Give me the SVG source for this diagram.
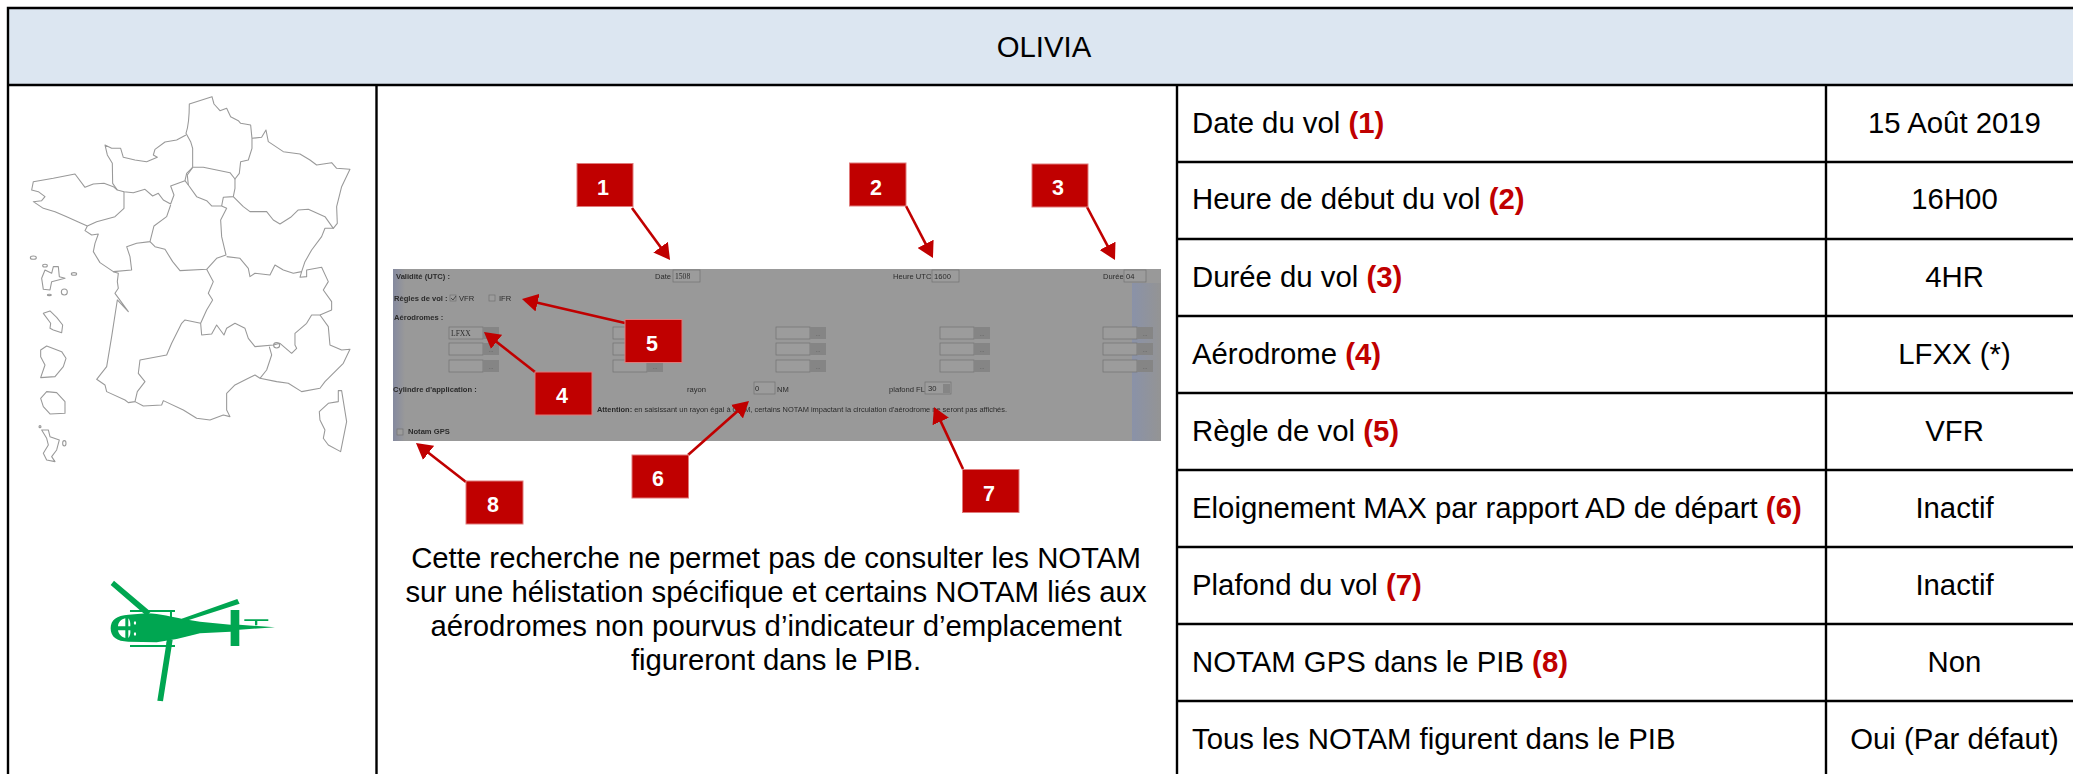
<svg xmlns="http://www.w3.org/2000/svg" xmlns:xlink="http://www.w3.org/1999/xlink" width="2073" height="774" viewBox="0 0 2073 774">
<style>
text{font-family:"Liberation Sans",Arial,sans-serif;fill:#000}
.c{font-size:29.33px}
.m{text-anchor:middle}
.r{fill:#C00000;font-weight:bold}
.grid{stroke:#000;stroke-width:2.4;fill:none}
.map path,.map ellipse{fill:none;stroke:#999;stroke-width:3.2;stroke-linejoin:round}
.badge rect{fill:#C00000;stroke:#E07B7B;stroke-width:1}
.badge text{fill:#fff;font-weight:bold;font-size:21.5px;text-anchor:middle}
.arrow line{stroke:#C00000;stroke-width:2.6;marker-end:url(#ah)}
.s{font-size:7.6px;fill:#2b2b2b}
.b{font-weight:bold}
.d{font-size:6px;fill:#555;text-anchor:middle}
.inp{fill:#9c9c9c;stroke:#727272;stroke-width:.7}
.btn{fill:#858585}
.hel{fill:#00A651}
.hel .w{fill:#fff}
</style>
<defs>
<marker id="ah" markerUnits="userSpaceOnUse" viewBox="0 0 16 18" refX="10" refY="9" markerWidth="16" markerHeight="18" orient="auto"><path d="M0 0L16 9L0 18Z" fill="#C00000"/></marker>
<linearGradient id="gl" x1="0" x2="1" y1="0" y2="0"><stop offset="0" stop-color="#84899f"/><stop offset="1" stop-color="#999"/></linearGradient>
<linearGradient id="gr" x1="0" x2="1" y1="0" y2="0"><stop offset="0" stop-color="#8a92a8"/><stop offset="1" stop-color="#949494"/></linearGradient>
<filter id="soft" x="-2%" y="-2%" width="104%" height="104%"><feGaussianBlur stdDeviation="0.4"/></filter>
<g id="field"><rect class="inp" x="0" y="0" width="34" height="12"/><rect class="btn" x="34" y="0" width="16" height="12"/><text class="d" x="42" y="9">...</text></g>
</defs>
<rect width="2073" height="774" fill="#fff"/>
<g id="table">
<rect x="8" y="8" width="2067" height="77" fill="#DCE6F1"/>
<path class="grid" d="M2075 8H8V776M376.500 85V776M1177 85V776M1826 85V776M8 85H2075M1177 162H2075M1177 239H2075M1177 316H2075M1177 393H2075M1177 470H2075M1177 547H2075M1177 624H2075M1177 701H2075"/>
</g>
<g id="title"><text class="c m" x="1044" y="57">OLIVIA</text></g>
<g id="map" class="map" transform="translate(0 80) scale(.3333)">
<path d="M558 160C565 140 568 110 568 72L636 50L642 72L660 92L680 85L692 110L715 122L722 130L752 135L756 175L756 205L745 240L722 245L718 280L705 297L690 278L650 270L610 262L578 262L578 205L572 185Z"/>
<path d="M558 165L530 180L495 186L465 208L460 225L472 232L440 245L405 240L370 232L362 205L335 205L315 195L322 225L337 250L338 310L352 330L372 335L400 338L435 328L458 348L475 340L490 360L512 372L522 345L512 318L555 302L560 280L578 262"/>
<path d="M372 335L372 385L345 410L290 425L262 438L240 428L200 410L165 395L130 385L100 365L125 362L135 350L115 335L95 330L100 305L160 295L225 282L255 322L280 312L312 310L340 320L352 330"/>
<path d="M262 438L255 452L275 465L295 462L285 490L280 515L300 548L340 575L395 570L390 530L380 500L410 490L450 485L462 438L500 410L512 375"/>
<path d="M555 302L565 315L590 350L620 362L635 378L665 378L680 385L662 420L665 470L678 525L650 535L620 568L540 572L518 545L495 508L465 500L450 485"/>
<path d="M578 262L562 285L565 315M705 297L705 325L700 350L670 352L665 378"/>
<path d="M756 175L785 172L798 150L805 185L850 215L900 222L930 240L950 255L995 248L1010 265L1050 268L1025 320L1010 380L1012 430L1000 445L975 410L925 388L895 390L872 412L840 432L820 420L800 395L750 395L730 380L700 350"/>
<path d="M1000 445L975 445L965 470L935 510L915 545L905 575L880 580L850 570L825 555L810 585L765 580L750 590L745 565L720 535L680 530"/>
<path d="M620 568L640 605L625 640L638 660L620 690L602 730L605 765L635 762L650 735L672 765L680 745L705 730L735 745L745 775L765 800L820 795L840 790L875 820L890 805L885 795L885 760L920 730L935 705L960 705L995 690L995 665L970 630L985 605L965 562L920 570L920 590L900 592L905 575"/>
<path d="M340 575L355 580L352 605L355 625L345 640L385 695L352 660L335 770L320 860L290 898L315 915L320 935L375 960L385 968L405 965L412 935L435 905L415 880L420 840L500 825L515 790L545 730L555 720L602 730"/>
<path d="M405 965L430 978L485 975L490 962L550 990L590 1015L630 1020L670 1005L690 1010L680 990L680 940L705 915L745 895L765 885L780 895L800 870L815 825L808 800"/>
<path d="M780 895L830 905L865 910L905 935L960 925L975 905L1030 850L1050 808L1025 810L990 795L985 740L960 705"/>
<ellipse cx="830" cy="796" rx="9" ry="8"/>
<path d="M1015 932L1025 932L1040 1025L1022 1115L985 1095L970 1075L975 1050L960 1020L958 995L985 970L1015 965Z"/>
<path d="M125 595L135 570L155 580L160 560L175 560L178 590L195 595L155 605L150 630L130 628Z"/>
<ellipse cx="100" cy="533" rx="9" ry="5"/><ellipse cx="135" cy="557" rx="7" ry="4"/><ellipse cx="222" cy="582" rx="8" ry="4"/><ellipse cx="193" cy="636" rx="9" ry="9"/><ellipse cx="148" cy="645" rx="6" ry="2"/>
<path d="M130 700L150 693L170 712L188 735L185 758L160 750L150 745L152 730Z"/>
<path d="M122 810L140 798L185 815L198 835L190 860L165 890L122 893L135 855L122 830Z"/>
<path d="M122 955L140 935L170 938L195 965L195 1000L150 1002L130 980Z"/>
<path d="M125 1050L145 1050L150 1070L178 1080L170 1110L155 1130L165 1145L140 1140L130 1120L145 1095L140 1075Z"/>
<ellipse cx="193" cy="1090" rx="5" ry="8"/><ellipse cx="120" cy="1040" rx="3" ry="3"/>
</g>
<g id="helicopter" class="hel" transform="translate(0 540) scale(.3333)">
<path d="M332 265C332 240 350 226 385 224L440 220C480 220 520 233 545 236L600 245L692 254V210H718V254L825 262L718 269V318H692V275L600 280L570 287L530 297L470 307L385 305C350 305 332 290 332 265Z"/>
<path d="M342 122L452 215L440 228L332 135ZM712 177L719 191L555 244L545 236ZM501 298L518 300L489 484L472 482Z"/>
<path d="M390 210H525V216H390ZM390 315H525V321H390ZM733 238H805V243H733ZM765 243H772V256H765ZM510 216H516V234H510ZM500 305H507V316H500Z"/>
<path class="w" d="M376 235C364 237 354 248 354 259H376ZM385 235V259H391C392 250 390 240 385 235ZM354 271C356 283 365 292 376 294V271ZM385 271V294C390 290 392 280 391 271Z"/>
<ellipse class="w" cx="405" cy="249" rx="3.500" ry="5"/><ellipse class="w" cx="405" cy="282" rx="3.500" ry="5"/>
</g>
<g id="screenshot" filter="url(#soft)">
<rect x="393" y="269" width="768" height="172" fill="#999"/>
<rect x="393" y="269" width="12" height="172" fill="url(#gl)"/>
<rect x="1132" y="283" width="29" height="158" fill="url(#gr)"/>
<text class="s b" x="396" y="279">Validité (UTC) :</text>
<text class="s" x="655" y="279">Date</text><rect class="inp" x="673" y="270" width="27" height="12"/><text class="s" x="675" y="279" style="font-family:'Liberation Serif',serif">1508</text>
<text class="s" x="893" y="279">Heure UTC</text><rect class="inp" x="932" y="270" width="27" height="12"/><text class="s" x="934" y="279">1600</text>
<text class="s" x="1103" y="279">Durée</text><rect class="inp" x="1124" y="270" width="22" height="12"/><text class="s" x="1126" y="279">04</text>
<text class="s b" x="394" y="301">Règles de vol :</text>
<rect class="inp" x="450" y="295" width="6" height="6"/><path d="M451 298l2 2l3-4" stroke="#333" fill="none" stroke-width=".8"/><text class="s" x="459" y="301">VFR</text>
<rect class="inp" x="489" y="295" width="6" height="6"/><text class="s" x="499" y="301">IFR</text>
<text class="s b" x="394" y="320">Aérodromes :</text>
<use href="#field" x="449" y="327"/><use href="#field" x="449" y="343"/><use href="#field" x="449" y="360"/>
<use href="#field" x="613" y="327"/><use href="#field" x="613" y="343"/><use href="#field" x="613" y="360"/>
<use href="#field" x="776" y="327"/><use href="#field" x="776" y="343"/><use href="#field" x="776" y="360"/>
<use href="#field" x="940" y="327"/><use href="#field" x="940" y="343"/><use href="#field" x="940" y="360"/>
<use href="#field" x="1103" y="327"/><use href="#field" x="1103" y="343"/><use href="#field" x="1103" y="360"/>
<text class="s" x="451" y="336" style="font-family:'Liberation Serif',serif">LFXX</text>
<text class="s b" x="393" y="392">Cylindre d'application :</text>
<text class="s" x="687" y="392">rayon</text><rect class="inp" x="754" y="382" width="21" height="12"/><text class="s" x="755" y="391">0</text><text class="s" x="777" y="392">NM</text>
<text class="s" x="889" y="392">plafond FL</text><rect class="inp" x="925" y="382" width="26" height="12"/><text class="s" x="928" y="391">30</text><rect class="btn" x="943" y="384" width="7" height="9"/>
<text class="s" x="597" y="412" textLength="410" lengthAdjust="spacingAndGlyphs"><tspan class="b">Attention:</tspan> en saisissant un rayon égal à 0 NM, certains NOTAM impactant la circulation d'aérodrome ne seront pas affichés.</text>
<rect class="inp" x="397" y="429" width="6" height="6"/><text class="s b" x="408" y="434">Notam GPS</text>
</g>
<g id="connectors" class="arrow">
<line x1="632" y1="208" x2="666.500" y2="255.200"/>
<line x1="906" y1="206" x2="930.200" y2="252.700"/>
<line x1="1087" y1="207" x2="1112.200" y2="254.700"/>
<line x1="535" y1="372" x2="488.700" y2="335.700"/>
<line x1="625" y1="323" x2="527.800" y2="300.400"/>
<line x1="688" y1="455" x2="744.500" y2="405"/>
<line x1="963" y1="469" x2="936.500" y2="412.400"/>
<line x1="466" y1="482" x2="420.700" y2="446.700"/>
</g>
<g id="badge-1" class="badge"><rect x="577" y="163.500" width="56" height="43"/><text x="603" y="195">1</text></g>
<g id="badge-2" class="badge"><rect x="849.500" y="163" width="56.500" height="43"/><text x="876" y="195">2</text></g>
<g id="badge-3" class="badge"><rect x="1032" y="164" width="56" height="43"/><text x="1058" y="195">3</text></g>
<g id="badge-4" class="badge"><rect x="535" y="372" width="57" height="43"/><text x="562" y="403">4</text></g>
<g id="badge-5" class="badge"><rect x="625" y="319.500" width="57" height="43"/><text x="652" y="351">5</text></g>
<g id="badge-6" class="badge"><rect x="632" y="455" width="56.500" height="43"/><text x="658" y="486">6</text></g>
<g id="badge-7" class="badge"><rect x="962.500" y="469.500" width="56.500" height="43"/><text x="989" y="501">7</text></g>
<g id="badge-8" class="badge"><rect x="466" y="481" width="57" height="43"/><text x="493" y="512">8</text></g>
<g id="note">
<text class="c m" x="776" y="568">Cette recherche ne permet pas de consulter les NOTAM</text>
<text class="c m" x="776" y="602">sur une hélistation spécifique et certains NOTAM liés aux</text>
<text class="c m" x="776" y="636">aérodromes non pourvus d’indicateur d’emplacement</text>
<text class="c m" x="776" y="670">figureront dans le PIB.</text>
</g>
<g id="row-1"><text class="c" x="1192" y="133">Date du vol <tspan class="r">(1)</tspan></text><text class="c m" x="1954.500" y="133">15 Août 2019</text></g>
<g id="row-2"><text class="c" x="1192" y="209">Heure de début du vol <tspan class="r">(2)</tspan></text><text class="c m" x="1954.500" y="209">16H00</text></g>
<g id="row-3"><text class="c" x="1192" y="287">Durée du vol <tspan class="r">(3)</tspan></text><text class="c m" x="1954.500" y="287">4HR</text></g>
<g id="row-4"><text class="c" x="1192" y="364">Aérodrome <tspan class="r">(4)</tspan></text><text class="c m" x="1954.500" y="364">LFXX (*)</text></g>
<g id="row-5"><text class="c" x="1192" y="441">Règle de vol <tspan class="r">(5)</tspan></text><text class="c m" x="1954.500" y="441">VFR</text></g>
<g id="row-6"><text class="c" x="1192" y="518">Eloignement MAX par rapport AD de départ <tspan class="r">(6)</tspan></text><text class="c m" x="1954.500" y="518">Inactif</text></g>
<g id="row-7"><text class="c" x="1192" y="595">Plafond du vol <tspan class="r">(7)</tspan></text><text class="c m" x="1954.500" y="595">Inactif</text></g>
<g id="row-8"><text class="c" x="1192" y="672">NOTAM GPS dans le PIB <tspan class="r">(8)</tspan></text><text class="c m" x="1954.500" y="672">Non</text></g>
<g id="row-9"><text class="c" x="1192" y="749">Tous les NOTAM figurent dans le PIB</text><text class="c m" x="1954.500" y="749">Oui (Par défaut)</text></g>
</svg>
